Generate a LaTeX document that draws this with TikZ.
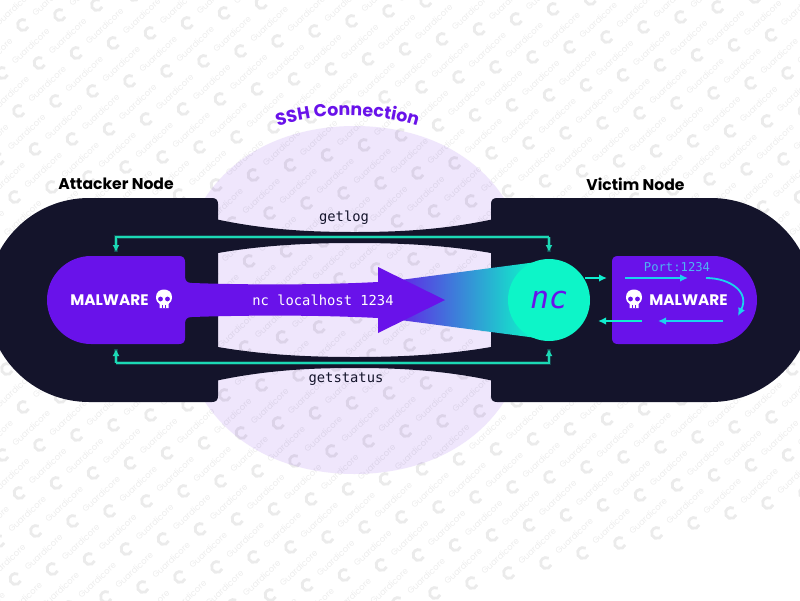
\documentclass[tikz,border=0pt]{standalone}
\usepackage{fontspec}
\setmainfont{Poppins}
\newfontfamily\monof{DejaVu Sans Mono}
\newfontfamily\headf{Poppins}
\usetikzlibrary{arrows.meta,decorations.text,shapes.geometric}
\definecolor{inkdark}{HTML}{14142B}
\definecolor{purp}{HTML}{6912EA}
\definecolor{lilac}{HTML}{EFE6FC}
\definecolor{teal1}{HTML}{0DF5C8}
\definecolor{tealline}{HTML}{1CD9B5}
\definecolor{cyanline}{HTML}{1BD3EE}
\definecolor{portc}{HTML}{4DB6F2}
\tikzset{
  x=1pt,y=-1pt,
  wmtext/.style={font=\headf\fontsize{8.5}{9}\selectfont,text=black,opacity=.07,rotate=43,inner sep=0},
  wmlogo/.style={draw=black,opacity=.08,line width=2.8},
  darkshape/.style={fill=inkdark,draw=none},
  purpshape/.style={fill=purp,draw=none},
  codelabel/.style={font=\monof\fontsize{13.8}{14}\selectfont,inner sep=0},
  heading/.style={font=\headf\bfseries\fontsize{15.6}{16}\selectfont,text=black,inner sep=0},
  malwaretext/.style={font=\headf\bfseries\fontsize{15.3}{16}\selectfont,text=white,inner sep=0},
  tealarrow/.style={draw=tealline,line width=1.4,-{Latex[length=7,width=7]},preaction={draw=tealline,draw opacity=.25,line width=3.5,-}},
  cyanarrow/.style={draw=cyanline,line width=1.8,-{Latex[length=8,width=7.5]}},
  greenarrow/.style={draw=teal1!80!cyanline,line width=1.8,-{Latex[length=8,width=7.5]}},
}
\newcommand{\skullicon}[1]{%
  \begin{scope}[shift={(#1)}]
    \fill[white] (-8,-2) .. controls (-8,-12) and (8,-12) .. (8,-2) .. controls (8,2) and (6,4) .. (4.5,5) -- (4.5,9) -- (-4.5,9) -- (-4.5,5) .. controls (-6,4) and (-8,2) .. (-8,-2) -- cycle;
    \fill[purp] (-3.5,0) circle[radius=2.4];
    \fill[purp] (3.5,0) circle[radius=2.4];
    \fill[purp] (-1.8,6.2) rectangle (-0.7,9);
    \fill[purp] (0.7,6.2) rectangle (1.8,9);
  \end{scope}}
\begin{document}
\begin{tikzpicture}
\useasboundingbox (0,0) rectangle (800,600);
\fill[white] (0,0) rectangle (800,600);
\clip (0,0) rectangle (800,600);
% lilac lens
\fill[lilac] (205,198) .. controls (240,145) and (300,126) .. (354.5,126) .. controls (409,126) and (469,145) .. (504,198) -- (504,402) .. controls (469,455) and (409,474) .. (354.5,474) .. controls (300,474) and (240,455) .. (205,402) -- cycle;
% watermark
\foreach \i in {-8,...,22}{
  \foreach \j in {-2,...,16}{
    \begin{scope}[shift={({23+\i*37+\j*16.5},{25-\i*10+\j*38})}]
      \draw[wmlogo] (20:5.5) arc[start angle=20,end angle=300,radius=5.5];
      \node[wmtext] at (28,-27) {Guardicore};
    \end{scope}
  }
}
% dark nodes and bands
\fill[darkshape] (89,198) -- (212,198) .. controls (216,198) and (218,200) .. (218,204) -- (218,396) .. controls (218,400) and (216,402) .. (212,402) -- (89,402) arc[start angle=90,end angle=270,radius=102] -- cycle;
\fill[darkshape] (620,198) -- (497,198) .. controls (493,198) and (491,200) .. (491,204) -- (491,396) .. controls (491,400) and (493,402) .. (497,402) -- (711,402) arc[start angle=90,end angle=-90,radius=102] -- cycle;
\fill[darkshape] (215,219) .. controls (270,231) and (320,232) .. (354.5,232) .. controls (389,232) and (439,231) .. (494,219) -- (494,253.5) -- (491,253) .. controls (439,244) and (389,243) .. (354.5,243) .. controls (320,243) and (270,244) .. (218,253) -- (215,253.5) -- cycle;
\fill[darkshape] (215,381) .. controls (270,369) and (320,368) .. (354.5,368) .. controls (389,368) and (439,369) .. (494,381) -- (494,346.5) -- (491,347) .. controls (439,356) and (389,357) .. (354.5,357) .. controls (320,357) and (270,356) .. (218,347) -- (215,346.5) -- cycle;
% gradient cone
\shade[left color=purp,right color=teal1,shading angle=90] (385,282) -- (533,262.5) -- (533,337.5) -- (385,318) -- cycle;
% malware left with arrow
\fill[purpshape] (91,256) -- (179,256) .. controls (183,256) and (185,258) .. (185,262) -- (185,276) .. controls (185,281) and (187,283) .. (192,283) .. controls (250,285) and (320,285) .. (378,282) -- (378,267) -- (445,300) -- (378,333) -- (378,318) .. controls (320,315) and (250,315) .. (192,317) .. controls (187,317) and (185,319) .. (185,324) -- (185,338) .. controls (185,342) and (183,344) .. (179,344) -- (91,344) arc[start angle=90,end angle=270,radius=44] -- cycle;
% malware right
\fill[purpshape] (713,256) -- (618,256) .. controls (614,256) and (612,258) .. (612,262) -- (612,338) .. controls (612,342) and (614,344) .. (618,344) -- (713,344) arc[start angle=90,end angle=-90,radius=44] -- cycle;
% nc circle
\node[circle,fill=teal1,minimum size=82,inner sep=0,font=\monof\itshape\fontsize{31}{32}\selectfont,text=purp] (nc) at (549,300) {nc};
% text
\node[heading] (attacker) at (116,184) {Attacker Node};
\node[heading] (victim) at (635.5,184) {Victim Node};
\node[malwaretext] (mleft) at (109.5,300) {MALWARE};
\node[malwaretext] (mright) at (688.5,300) {MALWARE};
\skullicon{164,299}
\skullicon{634,299}
\node[codelabel,text=inkdark] (getlog) at (344,218) {getlog};
\node[codelabel,text=inkdark] (getstatus) at (346,379) {getstatus};
\node[codelabel,text=white] (nclocal) at (323,300) {nc localhost 1234};
\node[font=\monof\fontsize{12.2}{13}\selectfont,text=portc,inner sep=0] (port) at (677,267) {Port:1234};
% ssh label
\path[decorate,decoration={text along path,text align=center,text={|\headf\bfseries\fontsize{17.4}{18}\selectfont\color{purp}|SSH Connection}}] (260,133) .. controls (310,110) and (385,110) .. (435,133);
% connector anchors
\coordinate (tl) at (116,237);
\coordinate (tr) at (549,237);
\coordinate (bl) at (116,363);
\coordinate (br) at (549,363);
\coordinate (topl) at (116,252);
\coordinate (topr) at (549,252);
\coordinate (botl) at (116,349);
\coordinate (botr) at (549,349);
\draw[tealarrow] (tr) -- (topr);
\draw[tealarrow] (tr) -- (tl) -- (topl);
\draw[tealarrow] (bl) -- (botl);
\draw[tealarrow] (bl) -- (br) -- (botr);
\coordinate (a1) at (585,278); \coordinate (a2) at (607,278);
\draw[greenarrow] (a1) -- (a2);
\coordinate (b1) at (625,278); \coordinate (b2) at (688,278);
\draw[cyanarrow] (b1) -- (b2);
\coordinate (c1) at (706,278); \coordinate (c2) at (738,316);
\draw[cyanarrow] (c1) .. controls (730,278) and (750,292) .. (c2);
\coordinate (d1) at (723,321); \coordinate (d2) at (658,321);
\draw[cyanarrow] (d1) -- (d2);
\coordinate (e1) at (642,321); \coordinate (e2) at (598,321);
\draw[greenarrow] (e1) -- (e2);
\end{tikzpicture}
\end{document}
